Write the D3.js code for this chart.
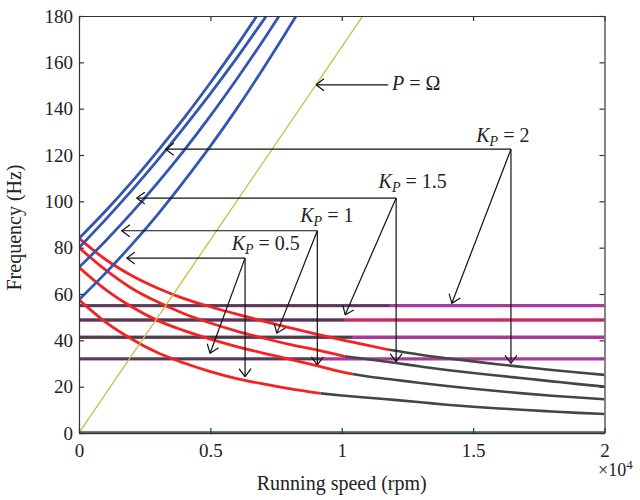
<!DOCTYPE html>
<html>
<head>
<meta charset="utf-8">
<script src="https://cdn.jsdelivr.net/npm/d3@7"></script>
<style>
  body { margin: 0; background: #fff; }
  text { font-family: "Liberation Serif", "DejaVu Serif", serif; fill: #222; }
</style>
</head>
<body>
<svg id="chart" width="640" height="500"></svg>
<script>
// forward whirl (rpm, Hz)
const blueK2  = [[0,84],[1000,95.7],[2000,108.3],[3000,121.8],[4000,136.0],[5000,151.2],[6000,167.1],[7000,184.0]];
const blueK15 = [[0,80],[1000,92.0],[2000,104.6],[3000,117.9],[4000,131.9],[5000,146.5],[6000,161.8],[7000,177.9],[7500,186.1]];
const blueK1  = [[0,71.5],[1000,82.8],[2000,95.0],[3000,108.1],[4000,122.0],[5000,136.9],[6000,152.7],[7000,169.3],[8000,186.8]];
const blueK05 = [[0,57.5],[1000,68.9],[2000,81.2],[3000,94.4],[4000,108.7],[5000,123.8],[6000,139.9],[7000,157.1],[8000,175.1],[8500,184.5]];

// backward whirl, red part then grey part
const redK2  = [[0,84],[1000,75],[2000,68],[3000,62.5],[4000,58],[5000,54.5],[6000,51.3],[7000,48.3],[8000,45.5],[9000,42.8],[10000,40.2],[11000,37.8],[11800,35.9]];
const grayK2 = [[11800,35.9],[13000,33.8],[14000,32.3],[15000,30.9],[16000,29.6],[17000,28.4],[18000,27.2],[19000,26.1],[20000,25.1]];
const redK15  = [[0,80],[1000,70.5],[2000,62.5],[3000,56.5],[4000,51.5],[5000,47.5],[6000,44],[7000,41],[8000,38.3],[9000,36],[10100,33.1]];
const grayK15 = [[10100,33.1],[11000,31.8],[12000,30.3],[13000,28.7],[14000,27.2],[15000,25.9],[16000,24.7],[17000,23.5],[18000,22.3],[19000,21.1],[20000,20]];
const redK1  = [[0,71.5],[1000,62],[2000,54.5],[3000,48.5],[4000,44.2],[5000,40.5],[6000,37.3],[7000,34.5],[8000,31.9],[9000,29.2],[10000,26.4],[10400,25.5]];
const grayK1 = [[10400,25.5],[11000,24.4],[12000,23],[13000,21.6],[14000,20.3],[15000,19.1],[16000,18],[17000,17],[18000,16.1],[19000,15.3],[20000,14.6]];
const redK05  = [[0,57.5],[1000,48],[2000,40.6],[3000,34.6],[4000,30.2],[5000,26.5],[6000,23.5],[7000,21.2],[8000,19.2],[9200,17.1]];
const grayK05 = [[9200,17.1],[10000,16.2],[11000,15.2],[12000,14.3],[13000,13.3],[14000,12.2],[15000,11.3],[16000,10.6],[17000,9.9],[18000,9.3],[19000,8.7],[20000,8.2]];

// flat modes: level (Hz) and rpm where colour swaps
const flatLevels = [55, 48.8, 41.3, 32];
const flatSwitch = [11800, 10100, 10400, 9200];
const flatRight  = ['purple', 'redpurple', 'purple', 'purple'];

const omegaLine = [[0,0],[12000,200]]; // P = Ω, rpm/60
const greenLine = [[0,0.45],[20000,0.45]];
const purpleBase = [[0,0],[20000,0]];

const xTicks = [0, 5000, 10000, 15000, 20000];
const yTicks = [0, 20, 40, 60, 80, 100, 120, 140, 160, 180];

// annotations (rpm, Hz)
const kLabels  = ['2', '1.5', '1', '0.5'];
const kCorner  = [[16440,122.5],[12070,101.4],[9070,87.3],[6320,75.5]];
const kBlueTip = [[3300,122.5],[2200,101.4],[1630,87.3],[1820,75.5]];
const kDiagTip = [[14190,56.0],[10130,51.0],[7530,43.1],[4990,34.4]];
const kVertTip = [[16440,30.1],[12070,30.8],[9070,29.4],[6320,24.3]];
const kTextPos = [[15120,125.8],[11400,105.7],[8420,91.1],[5810,79]];
const pArrowFrom = [11770,150.3], pArrowTip = [9020,150.3], pTextPos = [11910,147.9];

const svg = d3.select('#chart');
const m = { left: 79, right: 604.5, top: 16, bottom: 433 };

const x = d3.scaleLinear().domain([0, 20000]).range([m.left, m.right]);
const y = d3.scaleLinear().domain([0, 180]).range([m.bottom, m.top]);

const C = { blue: '#3456b2', red: '#f42222', gray: '#454545', purple: '#a83a9c', green: '#2a7a48', olive: '#c4c040' };

const defs = svg.append('defs');
defs.append('clipPath').attr('id', 'clip')
  .append('rect').attr('x', m.left).attr('y', m.top).attr('width', m.right - m.left).attr('height', m.bottom - m.top + 3);

defs.append('marker')
  .attr('id', 'arr')
  .attr('viewBox', '0 0 9 13')
  .attr('refX', 8.5).attr('refY', 6.5)
  .attr('markerWidth', 9).attr('markerHeight', 13)
  .attr('markerUnits', 'userSpaceOnUse')
  .attr('orient', 'auto')
  .append('path')
  .attr('d', 'M0.5,0.5 L8.5,6.5 L0.5,12.5')
  .attr('fill', 'none').attr('stroke', '#111').attr('stroke-width', 1.2);

const line = d3.line().x(d => x(d[0])).y(d => y(d[1])).curve(d3.curveMonotoneX);
const plot = svg.append('g').attr('clip-path', 'url(#clip)');

function draw(data, color, w) {
  plot.append('path').datum(data).attr('d', line)
    .attr('fill', 'none').attr('stroke', color).attr('stroke-width', w);
}

// flat modes
flatLevels.forEach((lv, i) => {
  draw([[0, lv], [20000, lv]], C.purple, 3.4);
  draw([[0, lv], [flatSwitch[i], lv]], C.gray, 2.4);
  if (flatRight[i] === 'redpurple') draw([[flatSwitch[i], lv], [20000, lv]], C.red, 1.6);
});

// backward whirl
[grayK2, grayK15, grayK1, grayK05].forEach(d => draw(d, C.gray, 2.6));
[redK2, redK15, redK1, redK05].forEach(d => draw(d, C.red, 2.8));
// forward whirl
[blueK2, blueK15, blueK1, blueK05].forEach(d => draw(d, C.blue, 2.8));

draw(omegaLine, C.olive, 1.3);
draw(purpleBase, C.purple, 2.6);
draw(greenLine, C.green, 1.6);

// axes, ticks inward on all four sides
const styleAxis = g => {
  g.selectAll('path.domain').attr('stroke', '#333').attr('stroke-width', 1.2);
  g.selectAll('.tick line').attr('stroke', '#333').attr('stroke-width', 1.2);
  g.selectAll('.tick text').style('font-family', '"Liberation Serif", serif').style('font-size', '19px').attr('fill', '#222');
};

svg.append('g').attr('transform', `translate(0,${m.bottom})`)
  .call(d3.axisBottom(x).tickValues(xTicks).tickSize(-5).tickSizeOuter(0).tickPadding(11)
    .tickFormat(d => d3.format('')(d / 10000)))
  .call(styleAxis);

svg.append('g').attr('transform', `translate(0,${m.top})`)
  .call(d3.axisTop(x).tickValues(xTicks).tickSize(-5).tickSizeOuter(0).tickFormat(''))
  .call(styleAxis);

svg.append('g').attr('transform', `translate(${m.left},0)`)
  .call(d3.axisLeft(y).tickValues(yTicks).tickSize(-5).tickSizeOuter(0).tickPadding(6))
  .call(styleAxis);

svg.append('g').attr('transform', `translate(${m.right},0)`)
  .call(d3.axisRight(y).tickValues(yTicks).tickSize(-5).tickSizeOuter(0).tickFormat(''))
  .call(styleAxis);

// ×10^4
const mult = svg.append('text').attr('x', 598).attr('y', 476).style('font-size', '18px');
mult.append('tspan').text('×10');
mult.append('tspan').attr('dy', -7).style('font-size', '13px').text('4');

svg.append('text')
  .attr('x', (m.left + m.right) / 2).attr('y', 490)
  .attr('text-anchor', 'middle').style('font-size', '20px')
  .text('Running speed (rpm)');

svg.append('text')
  .attr('transform', `translate(21,${(m.top + m.bottom) / 2 + 3}) rotate(-90)`)
  .attr('text-anchor', 'middle').style('font-size', '20px')
  .text('Frequency (Hz)');

// annotations
const ann = svg.append('g');
function arrow(from, to) {
  ann.append('line')
    .attr('x1', x(from[0])).attr('y1', y(from[1]))
    .attr('x2', x(to[0])).attr('y2', y(to[1]))
    .attr('stroke', '#111').attr('stroke-width', 1.2)
    .attr('marker-end', 'url(#arr)');
}

kLabels.forEach((k, i) => {
  arrow(kCorner[i], kBlueTip[i]);
  arrow(kCorner[i], kDiagTip[i]);
  arrow(kCorner[i], kVertTip[i]);
  const t = ann.append('text').attr('x', x(kTextPos[i][0])).attr('y', y(kTextPos[i][1])).style('font-size', '20px');
  t.append('tspan').style('font-style', 'italic').text('K');
  t.append('tspan').attr('dy', 4).style('font-style', 'italic').style('font-size', '14px').text('P');
  t.append('tspan').attr('dy', -4).text(' = ' + k);
});

arrow(pArrowFrom, pArrowTip);
const pt = ann.append('text').attr('x', x(pTextPos[0])).attr('y', y(pTextPos[1])).style('font-size', '20px');
pt.append('tspan').style('font-style', 'italic').text('P');
pt.append('tspan').text(' = Ω');
</script>
</body>
</html>
